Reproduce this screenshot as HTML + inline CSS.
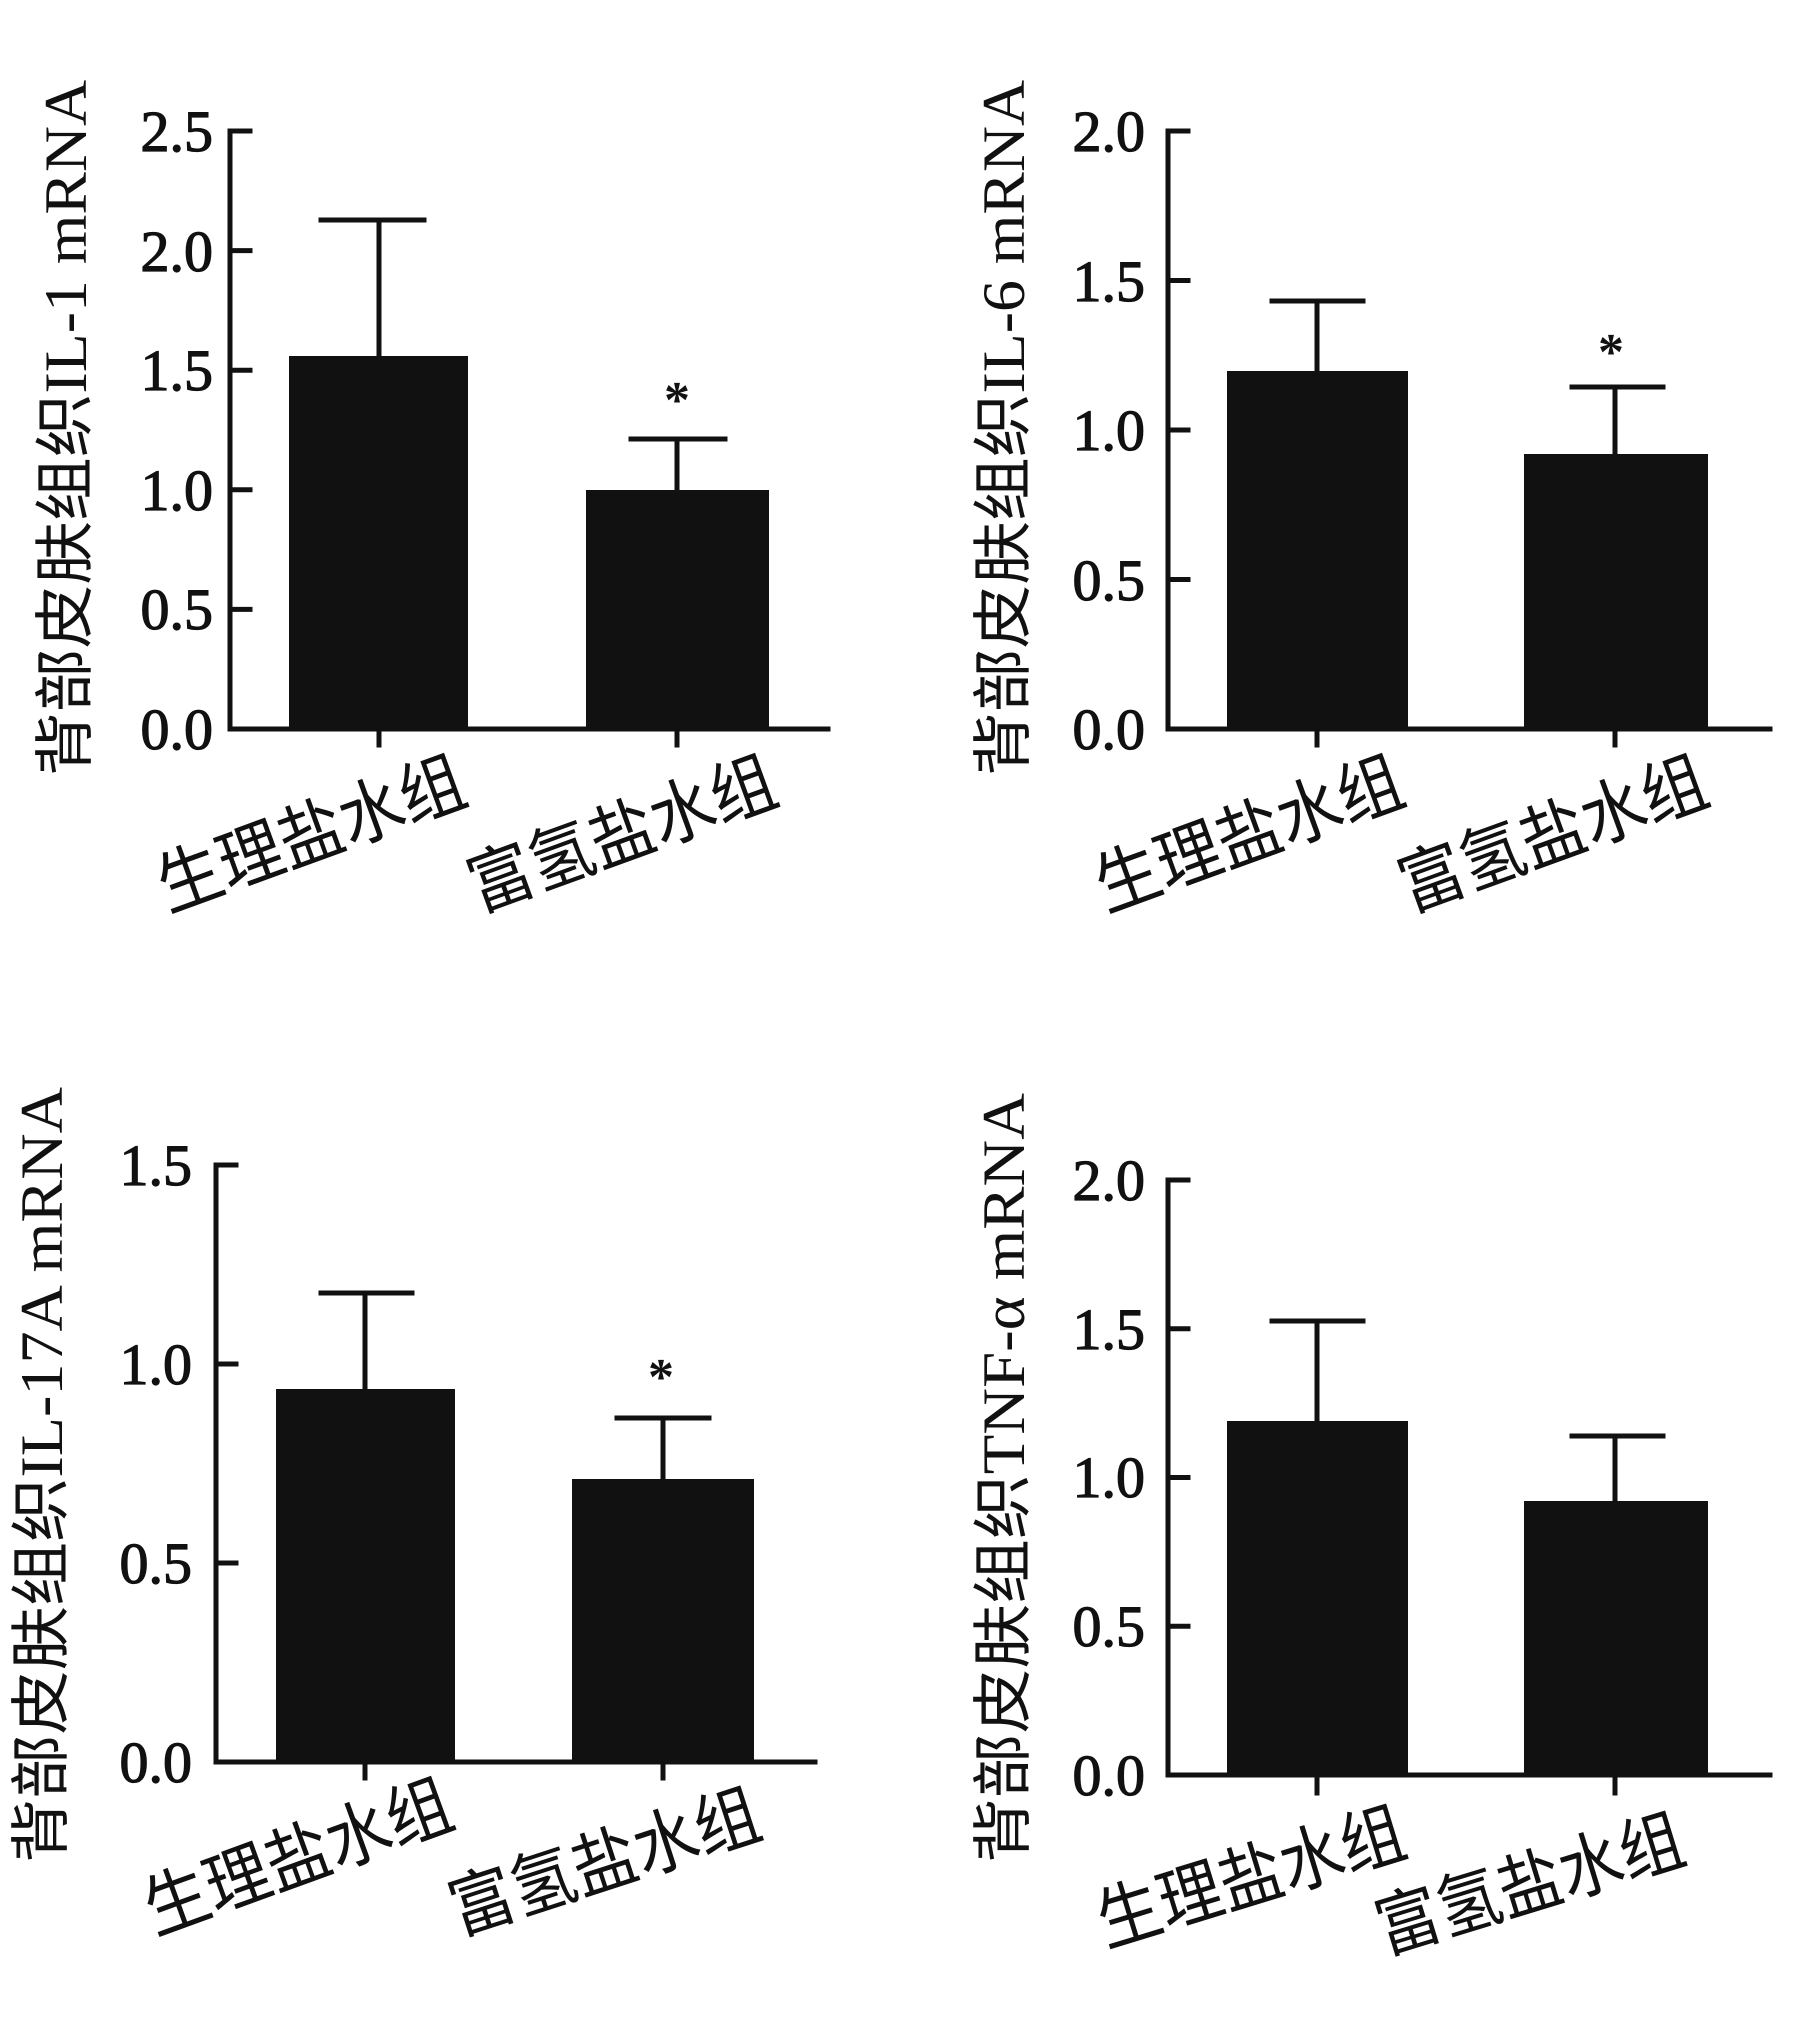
<!DOCTYPE html>
<html><head><meta charset="utf-8"><style>html,body{margin:0;padding:0;background:#fff}svg{display:block}</style></head>
<body>
<svg width="1803" height="2031" viewBox="0 0 1803 2031" xmlns="http://www.w3.org/2000/svg">
<g stroke="#111" stroke-width="5" fill="none" stroke-linecap="square">
<!-- chart1 -->
<path d="M230 131V729H828M230 131h20M230 250.6h20M230 370.2h20M230 489.8h20M230 609.4h20M379 729v16M677 729v16"/>
<path d="M379 356V220M321 220h103M677 490V439M631 439h94"/>
<!-- chart2 -->
<path d="M1168 131V729H1770M1168 131h20M1168 280.5h20M1168 430h20M1168 579.5h20M1317 729v16M1615 729v16"/>
<path d="M1317 371V301M1272 301h91M1615 454V387M1572 387h91"/>
<!-- chart3 -->
<path d="M216 1165V1762H815M216 1165h20M216 1364h20M216 1563h20M365 1762v16M663 1762v16"/>
<path d="M365 1389V1293M321 1293h91M663 1479V1418M617 1418h92"/>
<!-- chart4 -->
<path d="M1168 1180V1775H1770M1168 1180h20M1168 1328.75h20M1168 1477.5h20M1168 1626.25h20M1317 1775v18M1615 1775v18"/>
<path d="M1317 1421V1321M1272 1321h91M1615 1501V1436M1572 1436h91"/>
</g>
<g fill="#111">
<rect x="289" y="356" width="179" height="373"/><rect x="586" y="490" width="183" height="239"/>
<rect x="1227" y="371" width="181" height="358"/><rect x="1524" y="454" width="184" height="275"/>
<rect x="276" y="1389" width="179" height="373"/><rect x="572" y="1479" width="182" height="283"/>
<rect x="1227" y="1421" width="181" height="354"/><rect x="1524" y="1501" width="184" height="274"/>
</g>
<g font-family="'Liberation Serif',serif" font-size="58" fill="#111" stroke="#111" stroke-width="1.2" text-anchor="end">
<text x="213" y="749">0.0</text><text x="213" y="629">0.5</text><text x="213" y="510">1.0</text><text x="213" y="390">1.5</text><text x="213" y="271">2.0</text><text x="213" y="151">2.5</text>
<text x="1145" y="749">0.0</text><text x="1145" y="600">0.5</text><text x="1145" y="450">1.0</text><text x="1145" y="301">1.5</text><text x="1145" y="151">2.0</text>
<text x="192" y="1782">0.0</text><text x="192" y="1583">0.5</text><text x="192" y="1384">1.0</text><text x="192" y="1185">1.5</text>
<text x="1145" y="1795">0.0</text><text x="1145" y="1646">0.5</text><text x="1145" y="1497">1.0</text><text x="1145" y="1349">1.5</text><text x="1145" y="1200">2.0</text>
</g>
<g font-family="'Liberation Serif',serif" font-size="52" font-weight="bold" fill="#111" text-anchor="middle">
<text x="677" y="417">*</text><text x="1611" y="369">*</text><text x="661" y="1394">*</text>
</g>
<g font-family="'Liberation Serif','Noto Sans CJK SC',sans-serif" font-size="60" fill="#111" text-anchor="middle">
<text transform="translate(86,428) rotate(-90)" textLength="696" lengthAdjust="spacingAndGlyphs">背部皮肤组织IL-1 mRNA</text>
<text transform="translate(1024,428) rotate(-90)" textLength="696" lengthAdjust="spacingAndGlyphs">背部皮肤组织IL-6 mRNA</text>
<text transform="translate(62,1475) rotate(-90)" textLength="776" lengthAdjust="spacingAndGlyphs">背部皮肤组织IL-17A mRNA</text>
<text transform="translate(1024,1478) rotate(-90)" textLength="770" lengthAdjust="spacingAndGlyphs">背部皮肤组织TNF-α mRNA</text>
</g>
<g font-family="'Noto Sans CJK SC',sans-serif" font-size="70" fill="#111">
<text transform="translate(168,912) rotate(-20)" textLength="322" lengthAdjust="spacingAndGlyphs">生理盐水组</text>
<text transform="translate(479,912) rotate(-20)" textLength="322" lengthAdjust="spacingAndGlyphs">富氢盐水组</text>
<text transform="translate(1106,912) rotate(-20)" textLength="322" lengthAdjust="spacingAndGlyphs">生理盐水组</text>
<text transform="translate(1410,912) rotate(-20)" textLength="322" lengthAdjust="spacingAndGlyphs">富氢盐水组</text>
<text transform="translate(155,1935) rotate(-20)" textLength="322" lengthAdjust="spacingAndGlyphs">生理盐水组</text>
<text transform="translate(459,1935) rotate(-18)" textLength="322" lengthAdjust="spacingAndGlyphs">富氢盐水组</text>
<text transform="translate(1106,1947) rotate(-17)" textLength="318" lengthAdjust="spacingAndGlyphs">生理盐水组</text>
<text transform="translate(1385,1954) rotate(-17)" textLength="318" lengthAdjust="spacingAndGlyphs">富氢盐水组</text>
</g>
</svg>
</body></html>
